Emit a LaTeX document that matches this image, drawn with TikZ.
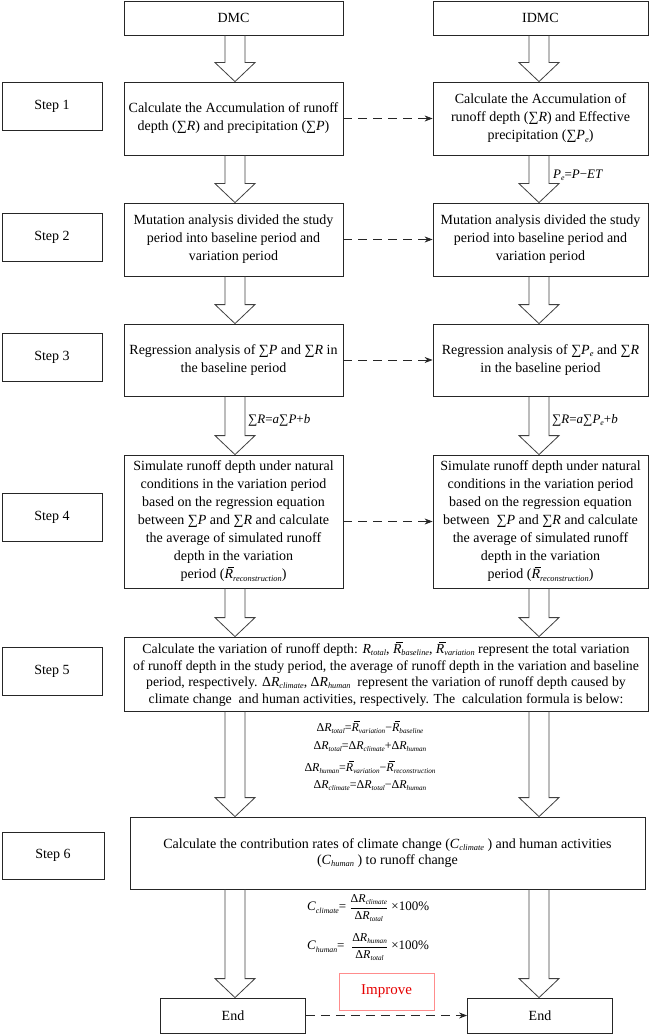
\documentclass[tikz,border=0pt]{standalone}
\usepackage{amsmath}
\usepackage{fontspec}
\setmainfont{Liberation Serif}
\usetikzlibrary{calc,arrows.meta}
\makeatletter
\newcommand\sbs[1]{\raisebox{-0.35ex}{\fontsize{\fpeval{0.6*\f@size}}{1}\selectfont\itshape #1}}
\makeatother
\newcommand\Rb{\leavevmode\rlap{\kern0.22em\rule[0.82em]{0.48em}{0.05em}}\textit{R}}
\newcommand\fatarr[3]{\draw[fatline] let \p1=(#1.south -| #3), \p2=(#2.north -| #3) in
  (\x1-10pt,\y1) -- (\x1-10pt,\y2+19pt) -- (\x1-20pt,\y2+19pt) -- (\x2,\y2) --
  (\x1+20pt,\y2+19pt) -- (\x1+10pt,\y2+19pt) -- (\x1+10pt,\y1);}
\begin{document}
\begin{tikzpicture}[x=1pt,y=-1pt,
  font=\fontsize{14}{18}\selectfont,
  boxL/.style={draw=black!85, line width=0.8pt, align=center, inner sep=0pt,
     minimum width=219},
  boxR/.style={draw=black!85, line width=0.8pt, align=center, inner sep=0pt,
     minimum width=215},
  stepbox/.style={draw=black!85, line width=0.8pt, align=center, inner sep=0pt,
     minimum width=100, minimum height=48},
  endbox/.style={draw=black!85, line width=0.8pt, inner sep=0pt,
     minimum width=145, minimum height=35},
  fatline/.style={draw=black!75, line width=0.8pt, line join=miter},
  dasharr/.style={draw=black!85, line width=0.8pt, dash pattern=on 9pt off 6pt,
     -{Stealth[length=8pt,width=6pt]}},
  fml/.style={inner sep=0pt, font=\fontsize{12}{14}\selectfont},
  lbl/.style={inner sep=0pt, anchor=west, font=\fontsize{13}{15}\selectfont}]
\useasboundingbox (0,0) rectangle (650,1035);

\coordinate (colL) at (235,0);
\coordinate (colR) at (539,0);

% headers
\node[boxL, minimum height=34] (dmc) at (233.5,18) {DMC};
\node[boxR, minimum height=34] (idmc) at (540.5,18) {IDMC};

% step labels
\node[stepbox] (st1) at (52,106) {Step 1};
\node[stepbox] (st2) at (52,237) {Step 2};
\node[stepbox] (st3) at (52,357.5) {Step 3};
\node[stepbox] (st4) at (52,517.5) {Step 4};
\node[stepbox] (st5) at (52,671.5) {Step 5};
\node[stepbox, minimum width=102, minimum height=47] (st6) at (53,855.5) {Step 6};

% step 1
\node[boxL, minimum height=73] (calcL) at (233.5,118.5)
  {Calculate the Accumulation of runoff\\depth (∑\textit{R}) and precipitation (∑\textit{P})};
\node[boxR, minimum height=73] (calcR) at (540.5,118.5)
  {Calculate the Accumulation of\\runoff depth (∑\textit{R}) and Effective\\precipitation (∑\textit{P}\sbs{e})};

% step 2
\node[boxL, minimum height=73] (mutL) at (233.5,239.5)
  {Mutation analysis divided the study\\period into baseline period and\\variation period};
\node[boxR, minimum height=73] (mutR) at (540.5,239.5)
  {Mutation analysis divided the study\\period into baseline period and\\variation period};

% step 3
\node[boxL, minimum height=72] (regL) at (233.5,360)
  {Regression analysis of ∑\textit{P} and ∑\textit{R} in\\the baseline period};
\node[boxR, minimum height=72] (regR) at (540.5,360)
  {Regression analysis of ∑\textit{P}\sbs{e} and ∑\textit{R}\\in the baseline period};

% step 4
\node[boxL, minimum height=133] (simL) at (233.5,521.5)
  {Simulate runoff depth under natural\\conditions in the variation period\\based on the regression equation\\between ∑\textit{P} and ∑\textit{R} and calculate\\the average of simulated runoff\\depth in the variation\\period (\Rb\sbs{reconstruction})};
\node[boxR, minimum height=133] (simR) at (540.5,521.5)
  {Simulate runoff depth under natural\\conditions in the variation period\\based on the regression equation\\between \ ∑\textit{P} and ∑\textit{R} and calculate\\the average of simulated runoff\\depth in the variation\\period (\Rb\sbs{reconstruction})};

% step 5
\node[draw=black!85, line width=0.8pt, align=center, inner sep=0pt,
  minimum width=524, minimum height=74,
  font=\fontsize{13.8}{16.5}\selectfont] (s5) at (386,674)
  {Calculate the variation of runoff depth: \textit{R}\sbs{total}, \Rb\sbs{baseline}, \Rb\sbs{variation} represent the total variation\\
   of runoff depth in the study period, the average of runoff depth in the variation and baseline\\
   period, respectively. Δ\textit{R}\sbs{climate}, Δ\textit{R}\sbs{human} \ represent the variation of runoff depth caused by\\
   climate change \ and human activities, respectively. The \ calculation formula is below:};

\node[fml] (f1) at (370,727) {Δ\textit{R}\sbs{total}=\Rb\sbs{variation}−\Rb\sbs{baseline}};
\node[fml] (f2) at (370,747) {Δ\textit{R}\sbs{total}=Δ\textit{R}\sbs{climate}+Δ\textit{R}\sbs{human}};
\node[fml] (f3) at (370,767) {Δ\textit{R}\sbs{human}=\Rb\sbs{variation}−\Rb\sbs{reconstruction}};
\node[fml] (f4) at (370,786) {Δ\textit{R}\sbs{climate}=Δ\textit{R}\sbs{total}−Δ\textit{R}\sbs{human}};

% step 6
\node[draw=black!85, line width=0.8pt, align=center, inner sep=0pt,
  minimum width=515, minimum height=72,
  font=\fontsize{14}{16.5}\selectfont] (s6) at (387.5,853)
  {Calculate the contribution rates of climate change (\textit{C}\sbs{climate} ) and human activities\\(\textit{C}\sbs{human} ) to runoff change};

\node[lbl] (c1) at (307,908) {\textit{C}\sbs{climate}= $\dfrac{\text{\fontsize{12}{13}\selectfont Δ\textit{R}\sbs{climate}}}{\text{\fontsize{12}{13}\selectfont Δ\textit{R}\sbs{total}}}$ ×100\%};
\node[lbl] (c2) at (307,947) {\textit{C}\sbs{human}= \ $\dfrac{\text{\fontsize{12}{13}\selectfont Δ\textit{R}\sbs{human}}}{\text{\fontsize{12}{13}\selectfont Δ\textit{R}\sbs{total}}}$ ×100\%};

% end
\node[endbox] (endL) at (233,1015.5) {End};
\node[endbox] (endR) at (540,1015.5) {End};
\node[draw=red!45, line width=0.8pt, text=red!90!black, inner sep=0pt,
  minimum width=95, minimum height=37, font=\fontsize{15}{18}\selectfont] (imp) at (386.5,991.5) {Improve};

% arrow labels
\node[lbl] (lpe) at (553,175) {\textit{P}\sbs{e}=\textit{P}−\textit{ET}};
\node[lbl] (lrl) at (248,420) {∑\textit{R}=\textit{a}∑\textit{P}+\textit{b}};
\node[lbl] (lrr) at (552,420) {∑\textit{R}=\textit{a}∑\textit{P}\sbs{e}+\textit{b}};

% fat arrows
\fatarr{dmc}{calcL}{colL}
\fatarr{idmc}{calcR}{colR}
\fatarr{calcL}{mutL}{colL}
\fatarr{calcR}{mutR}{colR}
\fatarr{mutL}{regL}{colL}
\fatarr{mutR}{regR}{colR}
\fatarr{regL}{simL}{colL}
\fatarr{regR}{simR}{colR}
\fatarr{simL}{s5}{colL}
\fatarr{simR}{s5}{colR}
\fatarr{s5}{s6}{colL}
\fatarr{s5}{s6}{colR}
\fatarr{s6}{endL}{colL}
\fatarr{s6}{endR}{colR}

% dashed arrows
\draw[dasharr] (calcL) -- (calcR);
\draw[dasharr] (mutL) -- (mutR);
\draw[dasharr] (regL) -- (regR);
\draw[dasharr] (simL) -- (simR);
\draw[dasharr] (endL) -- (endR);
\end{tikzpicture}
\end{document}
